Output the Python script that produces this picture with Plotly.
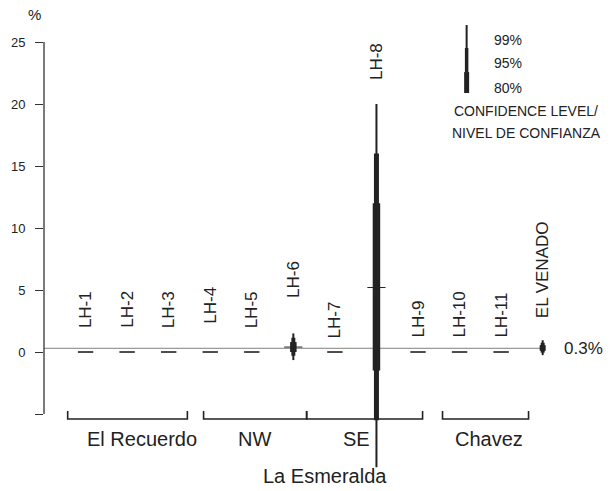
import plotly.graph_objects as go

# ---------------- data ----------------
sites = ["LH-1", "LH-2", "LH-3", "LH-4", "LH-5", "LH-6", "LH-7", "LH-8",
         "LH-9", "LH-10", "LH-11", "EL VENADO"]
site_x = [1, 2, 3, 4, 5, 6, 7, 8, 9, 10, 11, 12]
# central estimate (%)
center = [0, 0, 0, 0, 0, 0.4, 0, 5.2, 0, 0, 0, 0.3]
lo99 = [None, None, None, None, None, -0.65, None, -9.3, None, None, None, -0.25]
hi99 = [None, None, None, None, None, 1.5, None, 20.0, None, None, None, 0.95]
lo95 = [None, None, None, None, None, -0.3, None, -5.5, None, None, None, -0.05]
hi95 = [None, None, None, None, None, 1.15, None, 16.0, None, None, None, 0.75]
lo80 = [None, None, None, None, None, 0.0, None, -1.5, None, None, None, 0.1]
hi80 = [None, None, None, None, None, 0.8, None, 12.0, None, None, None, 0.55]
label_bottom = [1.77, 1.77, 1.77, 2.1, 1.77, 4.19, 0.97, 21.77, 0.97, 0.97, 0.97, 2.58]

groups = ["El Recuerdo", "NW", "SE", "Chavez"]
group_start = [0.57, 3.84, 6.32, 9.59]
group_end = [3.45, 6.32, 9.11, 11.66]
group_label_x = [2.35, 5.07, 7.52, 10.72]

y_ticks = [-5, 0, 5, 10, 15, 20, 25]
y_ticktext = ["", "0", "5", "10", "15", "20", "25"]
ref_value = 0.3

FONT = "Liberation Sans, Arial, sans-serif"
INK = "#222222"

fig = go.Figure()

# reference line at 0.3 %
fig.add_trace(go.Scatter(x=[0, 12], y=[ref_value, ref_value], mode="lines",
                         line=dict(color="#808080", width=1), hoverinfo="skip"))

# confidence intervals
widths = {"99": {6: 2, 8: 2, 12: 2}, "95": {6: 4, 8: 5, 12: 4}, "80": {6: 6.5, 8: 7.5, 12: 6}}
for level, lo, hi in (("99", lo99, hi99), ("95", lo95, hi95), ("80", lo80, hi80)):
    for i, xv in enumerate(site_x):
        if lo[i] is None:
            continue
        fig.add_trace(go.Scatter(x=[xv, xv], y=[lo[i], hi[i]], mode="lines",
                                 line=dict(color=INK, width=widths[level][xv]),
                                 hoverinfo="skip"))

# dashes for zero estimates
zx = [site_x[i] for i in range(len(sites)) if lo99[i] is None]
zy = [center[i] for i in range(len(sites)) if lo99[i] is None]
fig.add_trace(go.Scatter(x=zx, y=zy, mode="markers",
                         marker=dict(symbol="line-ew", size=11,
                                     line=dict(width=1.6, color=INK)),
                         hoverinfo="skip"))
# centre ticks on interval sites
cx = [site_x[i] for i in range(len(sites)) if lo99[i] is not None and sites[i] != "EL VENADO"]
cy = [center[i] for i in range(len(sites)) if lo99[i] is not None and sites[i] != "EL VENADO"]
fig.add_trace(go.Scatter(x=cx, y=cy, mode="markers",
                         marker=dict(symbol="line-ew", size=13,
                                     line=dict(width=1, color=INK)),
                         hoverinfo="skip"))

annotations = []
for i, s in enumerate(sites):
    annotations.append(dict(x=site_x[i], y=label_bottom[i], text=s, textangle=-90,
                            showarrow=False, xanchor="center", yanchor="bottom",
                            font=dict(family=FONT, size=17, color=INK)))

shapes = []
# y axis line (only -5 .. 25)
shapes.append(dict(type="line", xref="paper", yref="y", x0=0, x1=0, y0=-5, y1=25,
                   line=dict(color="#333333", width=1.3)))
# group brackets
for g, a, b, lxg in zip(groups, group_start, group_end, group_label_x):
    shapes.append(dict(type="path", xref="x", yref="y",
                       path=f"M {a},-4.75 L {a},-5.4 L {b},-5.4 L {b},-4.75",
                       line=dict(color=INK, width=1.6)))
    annotations.append(dict(x=lxg, y=-7.0, text=g,
                            showarrow=False, xanchor="center", yanchor="middle",
                            font=dict(family=FONT, size=20, color=INK)))
annotations.append(dict(x=6.75, y=-10.0, text="La Esmeralda", showarrow=False,
                        xanchor="center", yanchor="middle", borderpad=0,
                        font=dict(family=FONT, size=20, color=INK)))

# legend glyph
lx = 10.17
for (y0, y1, w) in ((24.52, 26.37, 2), (22.58, 24.52, 3.5), (20.89, 22.58, 5)):
    shapes.append(dict(type="line", xref="x", yref="y", x0=lx, x1=lx, y0=y0, y1=y1,
                       line=dict(color=INK, width=w)))
for t, yv in (("99%", 25.16), ("95%", 23.3), ("80%", 21.3)):
    annotations.append(dict(x=10.77, y=yv, text=t, showarrow=False, xanchor="left",
                            yanchor="middle", font=dict(family=FONT, size=14, color=INK)))
annotations.append(dict(x=11.61, y=19.44, text="CONFIDENCE LEVEL/", showarrow=False,
                        xanchor="center", yanchor="middle",
                        font=dict(family=FONT, size=14, color=INK)))
annotations.append(dict(x=11.61, y=17.66, text="NIVEL DE CONFIANZA", showarrow=False,
                        xanchor="center", yanchor="middle",
                        font=dict(family=FONT, size=14, color=INK)))
annotations.append(dict(x=12.46, y=ref_value, text="0.3%", showarrow=False,
                        xanchor="left", yanchor="middle",
                        font=dict(family=FONT, size=17, color=INK)))
annotations.append(dict(xref="paper", x=-10 / 566, y=27.2, text="%", showarrow=False,
                        xanchor="center", yanchor="middle",
                        font=dict(family=FONT, size=15, color=INK)))

fig.update_layout(
    width=610, height=491,
    margin=dict(l=44, r=0, t=0, b=0),
    plot_bgcolor="white", paper_bgcolor="white",
    showlegend=False,
    shapes=shapes, annotations=annotations,
    xaxis=dict(range=[0, 13.62], visible=False, fixedrange=True),
    yaxis=dict(range=[-11.21, 28.39], showgrid=False, zeroline=False, showline=False,
               tickmode="array", tickvals=y_ticks, ticktext=y_ticktext,
               ticks="outside", ticklen=8, tickwidth=1.3, tickcolor="#333333",
               ticklabelstandoff=7,
               tickfont=dict(family=FONT, size=13, color=INK)),
)

fig.write_html("out.html")
